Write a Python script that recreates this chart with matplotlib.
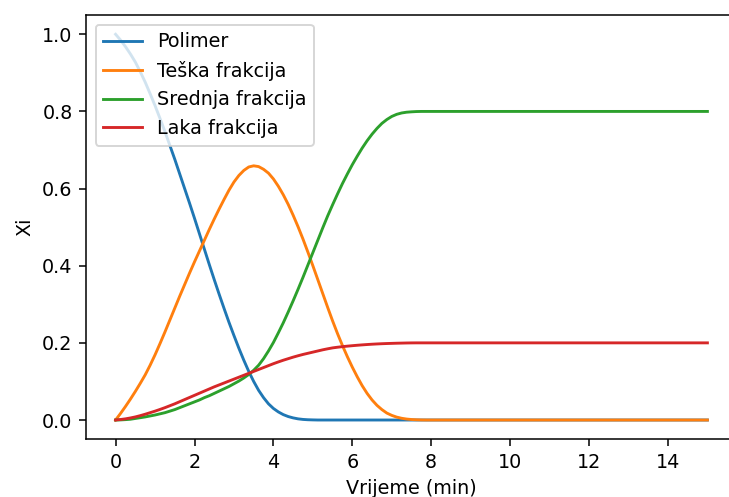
import matplotlib
matplotlib.use('Agg')
import matplotlib.pyplot as plt

# vrijeme (min): korak 0.125 do 8 min, zatim po 1 min do 15
t = [i * 0.125 for i in range(65)] + [9.0, 10.0, 11.0, 12.0, 13.0, 14.0, 15.0]

polimer = [1.0, 0.985, 0.968, 0.949, 0.928, 0.903, 0.876, 0.846,
           0.815, 0.782, 0.748, 0.712, 0.676, 0.638, 0.6, 0.562,
           0.523, 0.483, 0.443, 0.403, 0.364, 0.326, 0.289, 0.253,
           0.219, 0.186, 0.155, 0.126, 0.1, 0.077, 0.058, 0.042,
           0.03, 0.021, 0.014, 0.009, 0.0055, 0.003, 0.0015, 0.0007,
           0.0003] + [0.0] * 31

teska = [0.0, 0.017, 0.035, 0.054, 0.074, 0.095, 0.117, 0.142,
         0.169, 0.198, 0.228, 0.259, 0.29, 0.321, 0.351, 0.381,
         0.41, 0.438, 0.466, 0.494, 0.521, 0.547, 0.572, 0.596,
         0.617, 0.634, 0.647, 0.656, 0.659, 0.657, 0.65, 0.64,
         0.625, 0.606, 0.584, 0.559, 0.531, 0.501, 0.469, 0.435,
         0.4, 0.364, 0.328, 0.292, 0.257, 0.224, 0.193, 0.164,
         0.137, 0.112, 0.089, 0.069, 0.052, 0.038, 0.027, 0.018,
         0.012, 0.0075, 0.0045, 0.0025, 0.0013, 0.0006, 0.0002, 0.0,
         0.0] + [0.0] * 7

srednja = [0.0, 0.0003, 0.001, 0.002, 0.004, 0.006, 0.008, 0.0105,
           0.013, 0.016, 0.019, 0.023, 0.027, 0.032, 0.037, 0.042,
           0.047, 0.052, 0.058, 0.063, 0.069, 0.075, 0.081, 0.087,
           0.094, 0.101, 0.109, 0.118, 0.129, 0.142, 0.159, 0.179,
           0.201, 0.226, 0.252, 0.28, 0.309, 0.339, 0.37, 0.402,
           0.434, 0.466, 0.498, 0.529, 0.558, 0.586, 0.613, 0.638,
           0.662, 0.684, 0.705, 0.724, 0.741, 0.756, 0.769, 0.779,
           0.787, 0.7925, 0.796, 0.798, 0.799, 0.7997, 0.8, 0.8,
           0.8] + [0.8] * 7

laka = [0.0, 0.0013, 0.003, 0.0053, 0.008, 0.0113, 0.015, 0.019,
        0.023, 0.0274, 0.032, 0.037, 0.042, 0.0475, 0.053, 0.0585,
        0.064, 0.0695, 0.075, 0.0805, 0.086, 0.091, 0.096, 0.101,
        0.106, 0.111, 0.116, 0.121, 0.126, 0.131, 0.136, 0.141,
        0.146, 0.1506, 0.155, 0.159, 0.163, 0.1666, 0.17, 0.173,
        0.176, 0.179, 0.182, 0.1846, 0.187, 0.1887, 0.1902, 0.1915,
        0.1927, 0.1938, 0.1948, 0.1957, 0.1965, 0.1972, 0.1978, 0.1983,
        0.1987, 0.1991, 0.1994, 0.1997, 0.1999, 0.2, 0.2, 0.2,
        0.2] + [0.2] * 7

dpi = 138
fig = plt.figure(figsize=(729 / dpi, 497 / dpi), dpi=dpi)
# desni rub osi pada izvan slike (original je odrezan)
ax = fig.add_axes([86 / 729, 57.7 / 497, 651 / 729, 424.3 / 497])

ax.plot(t, polimer, label='Polimer')
ax.plot(t, teska, label='Teška frakcija')
ax.plot(t, srednja, label='Srednja frakcija')
ax.plot(t, laka, label='Laka frakcija')

ax.spines['right'].set_visible(False)
ax.set_xlabel('Vrijeme (min)')
ax.set_ylabel('Xi')
ax.legend(loc='upper left')

fig.savefig('out.png', dpi=dpi)
